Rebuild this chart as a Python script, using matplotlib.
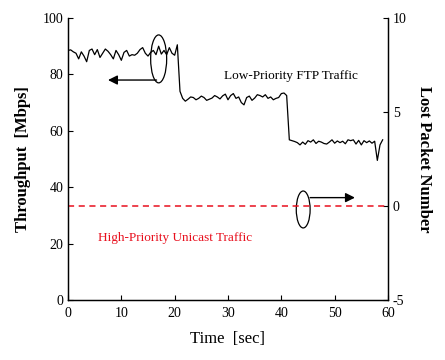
import numpy as np
import matplotlib
matplotlib.use("Agg")
import matplotlib.pyplot as plt
from matplotlib.patches import Ellipse

# Durchsatz (Mbps), Abtastung alle 0.5 s ab t=0
throughput = [
    # 0 .. 20.5 s
    88.5, 88.7, 88.0, 87.5, 85.5, 88.0, 86.5, 84.5, 88.5, 89.0,
    87.0, 88.8, 86.0, 87.5, 89.0, 88.2, 87.0, 85.5, 88.5, 87.0,
    85.0, 87.8, 88.5, 86.5, 87.0, 86.8, 87.5, 88.8, 89.5, 87.5,
    86.5, 87.8, 88.5, 87.0, 90.0, 87.2, 88.5, 87.0, 89.5, 87.5,
    86.8, 90.5,
    # 21 .. 41 s
    74.0, 71.5, 70.5, 71.2, 72.0, 71.8, 71.0, 71.5, 72.3, 71.8,
    70.8, 71.2, 71.6, 72.5, 72.0, 71.3, 72.4, 73.0, 71.0, 72.5,
    73.2, 71.5, 72.0, 70.0, 69.2, 71.8, 72.3, 70.8, 71.6, 72.8,
    72.5, 72.0, 72.8, 71.5, 72.0, 71.0, 71.5, 71.8, 73.2, 73.4,
    72.5,
    # 41.5 .. 59 s
    56.8, 56.5, 56.2, 55.8, 55.0, 56.0, 55.2, 56.5, 56.0, 56.8,
    55.5, 56.3, 56.0, 55.5, 55.3, 56.0, 56.8, 55.6, 56.4, 55.8,
    56.3, 55.4, 56.8, 56.5, 56.8, 55.3, 56.6, 55.0, 56.5, 55.8,
    56.4, 55.6, 56.3, 49.5, 55.0, 56.8,
]
time_s = np.arange(len(throughput)) * 0.5

# verlorene Pakete (High-Priority Unicast) – durchgehend 0
lost_t = [0, 60]
lost = [0, 0]

FONT = "Liberation Serif"
plt.rcParams["font.family"] = FONT
plt.rcParams["axes.unicode_minus"] = False

fig = plt.figure(figsize=(4.45, 3.6), dpi=100, facecolor="white")
ax = fig.add_axes([0.1528, 0.1667, 0.7191, 0.7833])
ax2 = ax.twinx()

ax.plot(time_s, throughput, color="black", linewidth=0.9)
ax2.plot(lost_t, lost, color="#e8101e", linewidth=1.1, dashes=(4, 3))

ax.set_xlim(0, 60)
ax.set_ylim(0, 100)
ax2.set_ylim(-5, 10)
ax.set_xticks(range(0, 61, 10))
ax.set_yticks(range(0, 101, 20))
ax2.set_yticks([-5, 0, 5, 10])

for a in (ax, ax2):
    a.spines["top"].set_visible(False)
    for s in a.spines.values():
        s.set_linewidth(0.9)
    a.tick_params(direction="in", length=3.5, width=0.8, labelsize=10)
ax.tick_params(axis="x", pad=5)

ax.set_xlabel("Time  [sec]", fontsize=12, labelpad=8)
ax.set_ylabel("Throughput  [Mbps]", fontsize=12, fontweight="bold", labelpad=8)
ax2.set_ylabel("Lost Packet Number", fontsize=12, fontweight="bold",
               rotation=-90, labelpad=18)

ax.text(41.8, 79.3, "Low-Priority FTP Traffic", fontsize=9.5,
        ha="center", va="center")
ax.text(20.0, 22.0, "High-Priority Unicast Traffic", fontsize=9.5,
        color="#e8101e", ha="center", va="center")

# Ellipsen + Pfeile
ax.add_patch(Ellipse((17.0, 85.5), 3.0, 17.0, fill=False,
                     edgecolor="black", linewidth=0.9))
ax.annotate("", xy=(7.5, 78.0), xytext=(16.6, 78.0),
            arrowprops=dict(arrowstyle="-|>", color="black", lw=1.0,
                            mutation_scale=14, shrinkA=0, shrinkB=0))
ax.add_patch(Ellipse((44.1, 32.1), 2.6, 13.1, fill=False,
                     edgecolor="black", linewidth=0.9, zorder=5))
ax.annotate("", xy=(53.8, 36.3), xytext=(45.4, 36.3),
            arrowprops=dict(arrowstyle="-|>", color="black", lw=1.0,
                            mutation_scale=14, shrinkA=0, shrinkB=0))

fig.savefig("out.png", dpi=100, facecolor="white")
